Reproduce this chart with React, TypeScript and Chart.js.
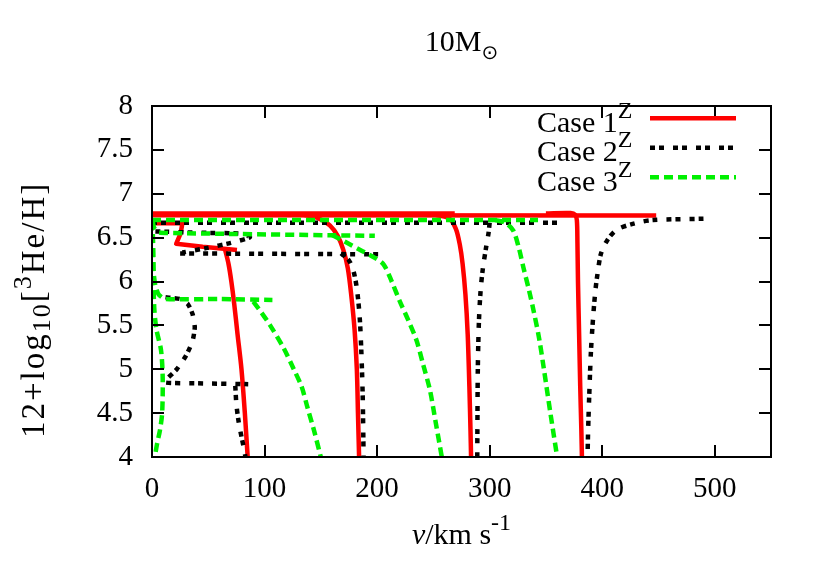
import React, { useEffect, useRef } from "react";
import { Chart, registerables } from "chart.js";

Chart.register(...registerables);

type P = [number, number];

// ---------- axes / labels ----------
const xTickValues = [0, 100, 200, 300, 400, 500];
const yTickValues = [4, 4.5, 5, 5.5, 6, 6.5, 7, 7.5, 8];
const xRange: P = [0, 550];
const yRange: P = [4, 8];

const titleMain = "10M";
const titleSub = "\u2299";
const xTitleItalic = "v";
const xTitleMain = "/km s";
const xTitleSup = "-1";
const yTitleA = "12+log";
const yTitleSub = "10";
const yTitleB = "[";
const yTitleSup = "3";
const yTitleC = "He/H]";
const legendLabels = ["Case 1", "Case 2", "Case 3"];
const legendSup = "Z";

// ---------- Case 1 (red, solid) ----------
const c1TopA: P[] = [[0, 6.775], [269, 6.775]];
const c1TopB: P[] = [[0, 6.755], [448, 6.752]];
const c1Loop: P[] = [[1, 6.665], [27, 6.665], [25.5, 6.55], [21.5, 6.43], [45, 6.395], [75.5, 6.36]];
const c1Drop85: P[] = [[65, 6.36], [68, 6.2], [70.5, 6.0], [73, 5.75], [76, 5.4], [79.5, 5.0], [82.5, 4.5], [85, 4.0]];
const c1Drop183: P[] = [[135, 6.76], [148, 6.72], [158, 6.64], [165, 6.52], [170, 6.36], [174, 6.15], [177, 5.85], [180, 5.45], [182, 5.0], [183, 4.5], [184, 4.0]];
const c1Drop283: P[] = [[252, 6.76], [264, 6.72], [270, 6.6], [273.5, 6.42], [276, 6.2], [278.5, 5.85], [280.5, 5.4], [282, 4.8], [283, 4.3], [283.5, 4.0]];
const c1Drop382: P[] = [[350, 6.775], [372, 6.78], [376, 6.76], [377.5, 6.7], [378, 6.45], [378.5, 6.0], [379.5, 5.4], [380.5, 4.8], [381.5, 4.3], [382, 4.0]];

// ---------- Case 2 (black, dotted) ----------
const c2Top: P[] = [[0, 6.67], [365, 6.67]];
const c2Loop: P[] = [[3, 6.57], [45, 6.555], [80, 6.545], [87, 6.505], [70, 6.44], [48, 6.38], [27, 6.33]];
const c2Mid: P[] = [[25, 6.32], [205, 6.31]];
const c2Drop188: P[] = [[168, 6.32], [175, 6.24], [179, 6.12], [182, 5.92], [184.5, 5.6], [186, 5.2], [187.2, 4.7], [188, 4.0]];
const c2Drop289: P[] = [[300, 6.67], [299, 6.55], [297, 6.4], [294, 6.15], [292, 5.9], [290.5, 5.55], [289.5, 5.0], [289, 4.0]];
const c2Drop387: P[] = [[490, 6.715], [445, 6.7], [428, 6.66], [413, 6.59], [405, 6.48], [399, 6.32], [396, 6.1], [394, 5.9], [392, 5.6], [390, 5.2], [388.5, 4.7], [387.5, 4.3], [387, 4.0]];
const c2Low: P[] = [[12, 5.82], [25, 5.8], [32, 5.74], [36, 5.63], [38, 5.48], [36, 5.32], [30, 5.15], [22, 5.0], [14, 4.9], [11, 4.85], [40, 4.84], [85.5, 4.83]];
const c2LowDrop: P[] = [[74, 4.81], [75, 4.6], [77, 4.4], [80, 4.2], [82, 4.08], [83, 4.0]];

// ---------- Case 3 (green, dashed) ----------
const c3Top: P[] = [[0, 6.7], [343, 6.7]];
const c3Mid: P[] = [[0.5, 6.69], [2, 6.61], [6, 6.56], [30, 6.55], [198, 6.52]];
const c3Drop258: P[] = [[160, 6.53], [172, 6.45], [185, 6.36], [198, 6.27], [206, 6.19], [213, 6.0], [220, 5.78], [228, 5.55], [235, 5.33], [241, 5.05], [247, 4.76], [252, 4.4], [257.5, 4.0]];
const c3Drop360: P[] = [[305, 6.7], [314, 6.67], [321, 6.58], [326, 6.38], [330, 6.16], [335, 5.9], [339, 5.67], [344, 5.35], [348, 5.02], [354, 4.5], [360, 4.0]];
const c3Shelf: P[] = [[0.5, 6.7], [1, 6.4], [1.5, 6.1], [3, 5.95], [6, 5.85], [12, 5.8], [60, 5.8], [107, 5.79]];
const c3Drop150: P[] = [[90, 5.77], [97, 5.65], [105, 5.5], [117, 5.24], [126, 5.0], [133, 4.8], [138, 4.57], [144, 4.3], [150, 4.0]];
const c3Axis: P[] = [[0.5, 6.7], [1, 6.2], [2, 5.7], [4, 5.45], [8, 5.22], [9.5, 4.9], [9, 4.5], [7, 4.3], [4.5, 4.15], [2.5, 4.0]];

// ---------- styles ----------
const RED = "#ff0000";
const BLACK = "#000000";
const GREEN = "#00f000";
const DASH_RED: number[] = [];
const DASH_BLACK = [5, 4, 5, 9];
const DASH_GREEN = [9, 5];
const LINE_W = 4.5;
const SERIF = "'Liberation Serif', 'Times New Roman', serif";

const case1Curves: [P[], number][] = [
  [c1TopA, 0], [c1TopB, 0], [c1Loop, 0], [c1Drop85, 0.3], [c1Drop183, 0.3], [c1Drop283, 0.3], [c1Drop382, 0.3],
];
const case2Curves: [P[], number][] = [
  [c2Top, 0], [c2Loop, 0.2], [c2Mid, 0], [c2Drop188, 0.3], [c2Drop289, 0.3], [c2Drop387, 0.3], [c2Low, 0.2], [c2LowDrop, 0.3],
];
const case3Curves: [P[], number][] = [
  [c3Top, 0], [c3Mid, 0.2], [c3Drop258, 0.3], [c3Drop360, 0.3], [c3Shelf, 0.2], [c3Drop150, 0.3], [c3Axis, 0.3],
];

function makeSets(curves: [P[], number][], color: string, dash: number[], order: number) {
  return curves.map(([pts, tension]) => ({
    data: pts.map(([x, y]) => ({ x, y })),
    borderColor: color,
    backgroundColor: color,
    borderWidth: LINE_W,
    borderDash: dash,
    borderCapStyle: "butt" as const,
    borderJoinStyle: "round" as const,
    pointRadius: 0,
    pointHoverRadius: 0,
    fill: false,
    tension,
    order,
  }));
}

const decorPlugin = {
  id: "decor",
  afterDatasetsDraw(chart: any) {
    const { ctx, chartArea: a, scales } = chart;
    const xs = scales.x;
    const ys = scales.y;
    ctx.save();
    ctx.strokeStyle = "#000";
    ctx.lineWidth = 2;
    ctx.setLineDash([]);
    ctx.beginPath();
    const TL = 12;
    for (const v of xTickValues) {
      const px = Math.round(xs.getPixelForValue(v));
      ctx.moveTo(px, a.bottom);
      ctx.lineTo(px, a.bottom - TL);
      ctx.moveTo(px, a.top);
      ctx.lineTo(px, a.top + TL);
    }
    for (const v of yTickValues) {
      const py = Math.round(ys.getPixelForValue(v));
      ctx.moveTo(a.left, py);
      ctx.lineTo(a.left + TL, py);
      ctx.moveTo(a.right, py);
      ctx.lineTo(a.right - TL, py);
    }
    ctx.stroke();
    ctx.strokeRect(a.left, a.top, a.right - a.left, a.bottom - a.top);
    ctx.restore();
  },
  afterDraw(chart: any) {
    const { ctx, chartArea: a } = chart;
    const cx = (a.left + a.right) / 2;
    ctx.save();
    ctx.fillStyle = "#000";
    ctx.textBaseline = "alphabetic";
    ctx.textAlign = "left";

    // Title
    ctx.font = `30px ${SERIF}`;
    const wT = ctx.measureText(titleMain).width;
    ctx.font = `20px 'DejaVu Sans', sans-serif`;
    const wS = ctx.measureText(titleSub).width;
    const tx = cx - (wT + wS) / 2;
    ctx.font = `30px ${SERIF}`;
    ctx.fillText(titleMain, tx, 50.5);
    ctx.font = `20px 'DejaVu Sans', sans-serif`;
    ctx.fillText(titleSub, tx + wT, 59);

    // X title
    ctx.font = `italic 30px ${SERIF}`;
    const w1 = ctx.measureText(xTitleItalic).width;
    ctx.font = `30px ${SERIF}`;
    const w2 = ctx.measureText(xTitleMain).width;
    ctx.font = `24px ${SERIF}`;
    const w3 = ctx.measureText(xTitleSup).width;
    let xx = cx - (w1 + w2 + w3) / 2;
    ctx.font = `italic 30px ${SERIF}`;
    ctx.fillText(xTitleItalic, xx, 544);
    xx += w1;
    ctx.font = `30px ${SERIF}`;
    ctx.fillText(xTitleMain, xx, 544);
    xx += w2;
    ctx.font = `24px ${SERIF}`;
    ctx.fillText(xTitleSup, xx, 530);

    // Y title (rotated)
    ctx.save();
    ctx.translate(44, 438);
    ctx.rotate(-Math.PI / 2);
    const parts: [string, number, number][] = [
      [yTitleA, 33, 0],
      [yTitleSub, 26, 6],
      [yTitleB, 33, 0],
      [yTitleSup, 26, -13],
      [yTitleC, 33, 0],
    ];
    let natural = 0;
    let chars = 0;
    for (const [s, size] of parts) {
      ctx.font = `${size}px ${SERIF}`;
      natural += ctx.measureText(s).width;
      chars += s.length;
    }
    const spacing = Math.max(0, Math.min(2, (265 - natural) / (chars - 1)));
    let yx = 0;
    for (const [s, size, dy] of parts) {
      ctx.font = `${size}px ${SERIF}`;
      for (const ch of s) {
        ctx.fillText(ch, yx, dy);
        yx += ctx.measureText(ch).width + spacing;
      }
    }
    ctx.restore();

    // Legend
    const lineY0 = 118.3;
    const textY0 = 131.7;
    const rowH = 29.5;
    const colors = [RED, BLACK, GREEN];
    const dashes = [DASH_RED, DASH_BLACK, DASH_GREEN];
    legendLabels.forEach((lab, i) => {
      ctx.font = `30px ${SERIF}`;
      ctx.fillStyle = "#000";
      const w = ctx.measureText(lab).width;
      const tx0 = 537;
      ctx.fillText(lab, tx0, textY0 + rowH * i);
      ctx.font = `24px ${SERIF}`;
      ctx.fillText(legendSup, tx0 + w, textY0 + rowH * i - 14);
      ctx.strokeStyle = colors[i];
      ctx.lineWidth = LINE_W;
      ctx.lineCap = "butt";
      ctx.setLineDash(dashes[i]);
      ctx.beginPath();
      ctx.moveTo(650, lineY0 + rowH * i);
      ctx.lineTo(736, lineY0 + rowH * i);
      ctx.stroke();
    });
    ctx.restore();
  },
};

export default function App() {
  const ref = useRef<HTMLCanvasElement | null>(null);
  useEffect(() => {
    if (!ref.current) return;
    const datasets = [
      ...makeSets(case1Curves, RED, DASH_RED, 3),
      ...makeSets(case2Curves, BLACK, DASH_BLACK, 2),
      ...makeSets(case3Curves, GREEN, DASH_GREEN, 1),
    ];
    const chart = new Chart(ref.current, {
      type: "line",
      data: { datasets },
      options: {
        animation: false,
        responsive: false,
        devicePixelRatio: 1,
        events: [],
        layout: { padding: { left: 0, top: 106, right: 51, bottom: 0 } },
        plugins: {
          legend: { display: false },
          tooltip: { enabled: false },
          title: { display: false },
        },
        scales: {
          x: {
            type: "linear",
            min: xRange[0],
            max: xRange[1],
            afterBuildTicks: (s: any) => {
              s.ticks = xTickValues.map((v) => ({ value: v }));
            },
            afterFit: (s: any) => {
              s.height = 119;
            },
            grid: { display: false, drawTicks: false },
            border: { display: false },
            ticks: {
              padding: 15,
              color: "#000",
              font: { family: SERIF, size: 29 },
              maxRotation: 0,
              callback: (v: any) => String(v),
            },
          },
          y: {
            type: "linear",
            min: yRange[0],
            max: yRange[1],
            afterBuildTicks: (s: any) => {
              s.ticks = yTickValues.map((v) => ({ value: v }));
            },
            afterFit: (s: any) => {
              s.width = 152;
            },
            grid: { display: false, drawTicks: false },
            border: { display: false },
            ticks: {
              padding: 19,
              color: "#000",
              font: { family: SERIF, size: 29 },
              callback: (v: any) => String(v),
            },
          },
        },
      },
      plugins: [decorPlugin],
    });
    return () => chart.destroy();
  }, []);
  return (
    <div style={{ position: "absolute", left: 0, top: 0, width: 822, height: 576, background: "#fff" }}>
      <canvas ref={ref} width={822} height={576} style={{ display: "block" }} />
    </div>
  );
}
